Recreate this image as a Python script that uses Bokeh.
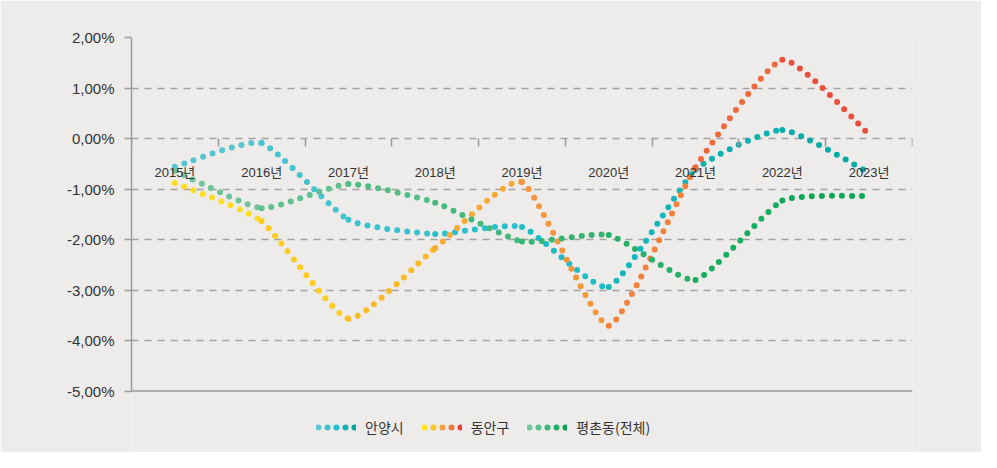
from bokeh.plotting import figure
from bokeh.models import (Range1d, LinearAxis, FixedTicker, Grid, Legend,
                          LegendItem, ColumnDataSource, Span)
from bokeh.embed import file_html
from bokeh.resources import INLINE

# ---------------- data ----------------
years = ["2015년", "2016년", "2017년", "2018년", "2019년",
         "2020년", "2021년", "2022년", "2023년"]
anyang = [-0.56, -0.09, -1.61, -1.89, -1.75, -2.94, -0.62, 0.17, -0.68]
dongan = [-0.88, -1.64, -3.57, -2.17, -0.86, -3.71, -0.57, 1.56, 0.08]
pyeongchon = [-0.64, -1.38, -0.90, -1.27, -2.04, -1.91, -2.80, -1.23, -1.14]
series_names = ["안양시", "동안구", "평촌동(전체)"]
ytick_values = [-5, -4, -3, -2, -1, 0, 1, 2]
ytick_labels = ["-5,00%", "-4,00%", "-3,00%", "-2,00%", "-1,00%",
                "0,00%", "1,00%", "2,00%"]

# ---------------- styles ----------------
BG = "#edecea"
AXIS = "#9a9a9a"
GRID = "#a2a2a2"
TXT = "#333333"
LATIN = "Liberation Sans, Noto Sans CJK KR"
HANGUL = "Noto Sans CJK KR"
gradients = [
    ["#5cc6d3", "#22bfcc", "#00a99f"],
    ["#ffe422", "#fdc41d", "#f7a03a", "#f0773c", "#e9403a"],
    ["#74c79b", "#3cb878", "#00a651"],
]
SMOOTH = 0.085   # curve handle factor (Catmull-Rom style, lower tension)

W, H = 981, 452
TOP, LEFT, RIGHT, BOTTOM = 37, 131, 69, 2
AXIS_SPAN_PX = 353.5      # pixel height of the -5..2 value band
FRAME_H = H - TOP - BOTTOM
ymin, ymax = ytick_values[0], ytick_values[-1]
y_lo = ymax - (ymax - ymin) * FRAME_H / AXIS_SPAN_PX   # extra room below for legend


def hex2rgb(h):
    h = h.lstrip("#")
    return [int(h[i:i + 2], 16) for i in (0, 2, 4)]


def grad(stops, t):
    t = min(max(t, 0.0), 1.0)
    k = len(stops) - 1
    i = min(int(t * k), k - 1)
    f = t * k - i
    a, b = hex2rgb(stops[i]), hex2rgb(stops[i + 1])
    return "#%02x%02x%02x" % tuple(round(a[j] + (b[j] - a[j]) * f) for j in range(3))


p = figure(width=W, height=H, x_range=Range1d(0, len(years)), y_range=Range1d(y_lo, ymax),
           x_axis_type=None, y_axis_type=None, output_backend="svg",
           toolbar_location=None, background_fill_color=BG, border_fill_color=BG,
           min_border_left=LEFT, min_border_right=RIGHT, min_border_top=TOP,
           min_border_bottom=BOTTOM)
p.outline_line_color = None

# y grid (dashed)
ygrid = Grid(dimension=1, ticker=FixedTicker(ticks=[v for v in ytick_values if v > ymin]),
             grid_line_color=GRID, grid_line_width=1.5, grid_line_dash="7 6")
p.add_layout(ygrid)

# bottom solid line at -5
p.add_layout(Span(location=ymin, dimension="width", line_color=AXIS, line_width=1.5))

# y axis
yax = LinearAxis(ticker=FixedTicker(ticks=ytick_values), bounds=(float(ymin), float(ymax)),
                 major_label_overrides={v: l for v, l in zip(ytick_values, ytick_labels)},
                 axis_line_color=AXIS, axis_line_width=1.5,
                 major_tick_line_color=AXIS, major_tick_line_width=1.5,
                 major_tick_out=7, major_tick_in=0, minor_tick_line_color=None,
                 major_label_standoff=10, major_label_text_font=LATIN,
                 major_label_text_font_size="15px", major_label_text_color=TXT)
p.add_layout(yax, "left")

# category axis crossing at 0
centers = [i + 0.5 for i in range(len(years))]
xax = LinearAxis(fixed_location=0,
                 ticker=FixedTicker(ticks=centers, minor_ticks=list(range(len(years) + 1))),
                 major_label_overrides={c: y for c, y in zip(centers, years)},
                 axis_line_alpha=0, major_tick_line_color=None,
                 major_tick_out=0, major_tick_in=0,
                 minor_tick_line_color=AXIS, minor_tick_line_width=1.5,
                 minor_tick_out=8, minor_tick_in=0,
                 major_label_standoff=18, major_label_text_font=LATIN,
                 major_label_text_font_size="13px", major_label_text_color=TXT)
p.add_layout(xax, "below")

# smoothed dotted series (cubic Bezier segments, gradient colour)
legend_items = []
nan = float("nan")
for vals, stops, name in zip([anyang, dongan, pyeongchon], gradients, series_names):
    n = len(vals)
    xs = centers
    d = dict(x0=[], y0=[], x1=[], y1=[], cx0=[], cy0=[], cx1=[], cy1=[], c=[])
    for i in range(n - 1):
        a = max(i - 1, 0)
        b = min(i + 2, n - 1)
        d["x0"].append(xs[i]); d["y0"].append(vals[i])
        d["x1"].append(xs[i + 1]); d["y1"].append(vals[i + 1])
        d["cx0"].append(xs[i] + SMOOTH * (xs[i + 1] - xs[a]))
        d["cy0"].append(vals[i] + SMOOTH * (vals[i + 1] - vals[a]))
        d["cx1"].append(xs[i + 1] - SMOOTH * (xs[b] - xs[i]))
        d["cy1"].append(vals[i + 1] - SMOOTH * (vals[b] - vals[i]))
        d["c"].append(grad(stops, (i + 0.5) / (n - 1)))
    p.bezier(x0="x0", y0="y0", x1="x1", y1="y1", cx0="cx0", cy0="cy0",
             cx1="cx1", cy1="cy1", source=ColumnDataSource(d), line_color="c",
             line_width=6, line_cap="round", line_dash="0 10")
    # legend sample: five dots with gradient colours (legend-only renderers)
    rs = []
    for k in range(5):
        r = p.line(x=[nan], y=[nan], line_color=grad(stops, k / 4), line_width=6,
                   line_cap="round", line_dash="0 100",
                   line_dash_offset=100 - (2 + 9 * k))
        rs.append(r)
    legend_items.append(LegendItem(label=name, renderers=rs))

legend = Legend(items=legend_items, orientation="horizontal", location=(185, 13),
                glyph_width=40, glyph_height=16, label_standoff=9, spacing=18,
                padding=0, margin=0, background_fill_alpha=0, border_line_alpha=0,
                label_text_font=HANGUL, label_text_font_size="14px",
                label_text_color=TXT)
p.add_layout(legend)

open("out.html", "w").write(file_html(p, INLINE))
